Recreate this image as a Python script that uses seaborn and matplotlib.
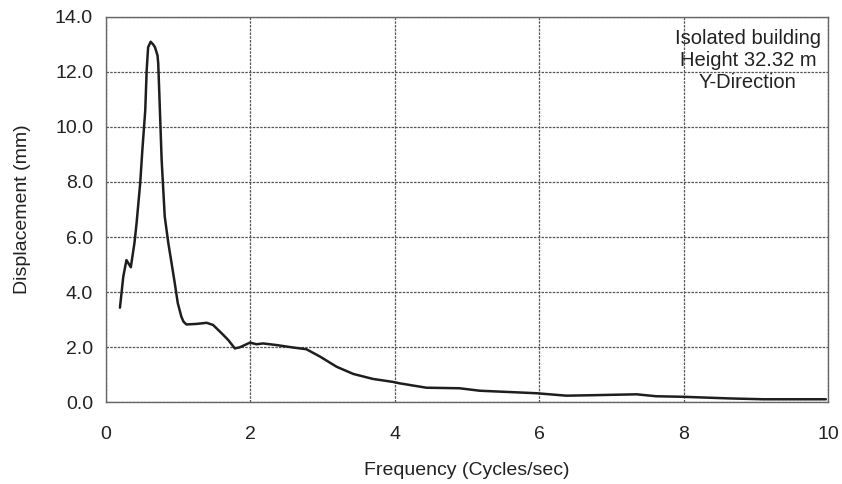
import matplotlib
matplotlib.use("Agg")
import matplotlib.pyplot as plt
import seaborn as sns
import pandas as pd

freq = [0.20, 0.246, 0.29, 0.35, 0.40, 0.43, 0.48, 0.51, 0.55, 0.57, 0.59, 0.625, 0.66,
        0.685, 0.72, 0.73, 0.745, 0.777, 0.82, 0.87, 0.915, 0.96, 1.00, 1.05, 1.08, 1.12,
        1.26, 1.40, 1.49, 1.56, 1.63, 1.70, 1.79, 1.86, 2.00, 2.09, 2.18, 2.37, 2.60,
        2.69, 2.78, 2.97, 3.20, 3.43, 3.70, 3.98, 4.07, 4.44, 4.90, 5.18, 5.96, 6.38,
        6.79, 7.35, 7.62, 7.99, 8.64, 9.10, 9.97]
disp = [3.43, 4.56, 5.16, 4.90, 5.77, 6.5, 7.95, 9.16, 10.6, 12.07, 12.9, 13.1, 13.0,
        12.9, 12.6, 12.3, 11.2, 8.8, 6.74, 5.77, 5.04, 4.3, 3.6, 3.1, 2.92, 2.82,
        2.84, 2.88, 2.8, 2.62, 2.44, 2.25, 1.95, 1.99, 2.16, 2.10, 2.13, 2.07, 1.98,
        1.95, 1.92, 1.65, 1.28, 1.02, 0.84, 0.73, 0.68, 0.52, 0.50, 0.41, 0.32, 0.23,
        0.25, 0.28, 0.21, 0.19, 0.13, 0.10, 0.10]
x_ticks = [0, 2, 4, 6, 8, 10]
y_ticks = [0, 2, 4, 6, 8, 10, 12, 14]
y_tick_labels = ["0.0", "2.0", "4.0", "6.0", "8.0", "10.0", "12.0", "14.0"]
annotation = "Isolated building\nHeight 32.32 m\nY-Direction"

sns.set_style("white")
plt.rcParams['font.family'] = ['Liberation Sans', 'DejaVu Sans']

df = pd.DataFrame({"Frequency": freq, "Displacement": disp})

fig = plt.figure(figsize=(8.42, 4.84), dpi=100)
ax = fig.add_axes([0.1253, 0.1694, 0.8581, 0.7955])
sns.lineplot(data=df, x="Frequency", y="Displacement", ax=ax, color="#1e1e1e",
             linewidth=1.8, sort=False)

ax.set_xlim(0, 10)
ax.set_ylim(0, 14)
ax.set_xticks(x_ticks)
ax.set_xticklabels([str(v) for v in x_ticks])
ax.set_yticks(y_ticks)
ax.set_yticklabels(y_tick_labels)
ax.tick_params(axis="both", length=0, labelsize=14, colors="#222222")
ax.tick_params(axis="x", pad=17)
ax.tick_params(axis="y", pad=9)
ax.grid(True, linestyle=(0, (2, 1)), color="#555555", linewidth=0.9)
for s in ax.spines.values():
    s.set_color("#666666")
    s.set_linewidth(1.0)
ax.set_xlabel("Frequency (Cycles/sec)", fontsize=14, color="#222222", labelpad=14)
ax.set_ylabel("Displacement (mm)", fontsize=14, color="#222222", labelpad=17)
ax.text(0.889, 0.968, annotation, transform=ax.transAxes, ha="center", va="top",
        fontsize=14.5, color="#222222", linespacing=1.18)

fig.savefig("out.png", dpi=100)
